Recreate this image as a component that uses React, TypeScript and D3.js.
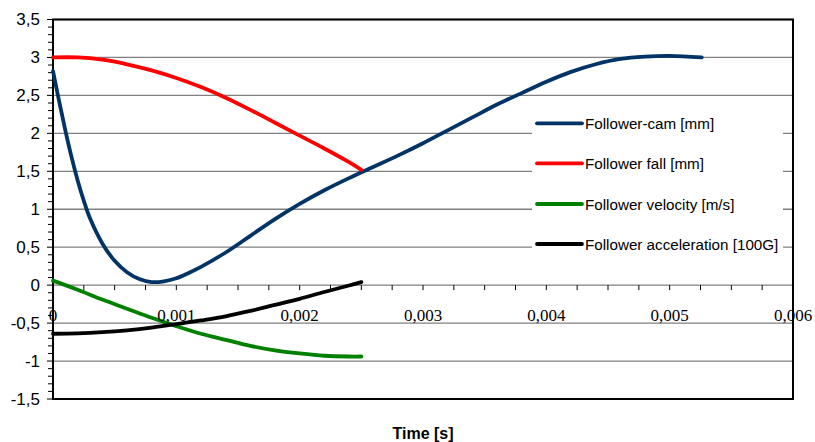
import React from "react";
import * as d3 from "d3";

// Time values in seconds
const camTime = [0, 0.00005, 0.0001, 0.00015, 0.0002, 0.00025, 0.0003, 0.0004, 0.0005, 0.0006, 0.0007, 0.0008, 0.0009, 0.001, 0.0011, 0.0012, 0.0014, 0.0016, 0.0018, 0.002, 0.0022, 0.0024, 0.0026, 0.0028, 0.003, 0.0032, 0.0034, 0.0036, 0.0038, 0.004, 0.0042, 0.0044, 0.0046, 0.0048, 0.005, 0.00526];
const camValues = [2.82, 2.42, 2.04, 1.69, 1.38, 1.11, 0.88, 0.55, 0.32, 0.17, 0.08, 0.04, 0.05, 0.09, 0.16, 0.24, 0.43, 0.65, 0.87, 1.07, 1.25, 1.41, 1.56, 1.71, 1.87, 2.04, 2.21, 2.38, 2.53, 2.68, 2.81, 2.91, 2.98, 3.01, 3.02, 3.0];

const fallTime = [0, 0.0002, 0.0004, 0.0006, 0.0008, 0.001, 0.0012, 0.0014, 0.0016, 0.0018, 0.002, 0.0022, 0.0024, 0.0025];
const fallValues = [3.0, 3.0, 2.97, 2.91, 2.83, 2.73, 2.61, 2.47, 2.31, 2.14, 1.97, 1.8, 1.62, 1.52];

const motionTime = [0, 0.0002, 0.0004, 0.0006, 0.0008, 0.001, 0.0012, 0.0014, 0.0016, 0.0018, 0.002, 0.0022, 0.0024, 0.0025];
const velocityValues = [0.06, -0.06, -0.19, -0.31, -0.43, -0.54, -0.64, -0.72, -0.8, -0.86, -0.9, -0.93, -0.94, -0.94];
const accelerationValues = [-0.64, -0.635, -0.62, -0.595, -0.56, -0.515, -0.465, -0.41, -0.34, -0.26, -0.18, -0.09, -0.005, 0.04];

const seriesNames = ["Follower-cam [mm]", "Follower fall [mm]", "Follower velocity [m/s]", "Follower acceleration [100G]"];
const seriesColors = ["#003366", "#ff0000", "#008000", "#000000"];

const xTicks = [0, 0.001, 0.002, 0.003, 0.004, 0.005, 0.006];
const xTickLabels = ["0", "0,001", "0,002", "0,003", "0,004", "0,005", "0,006"];
const yTicks = [-1.5, -1, -0.5, 0, 0.5, 1, 1.5, 2, 2.5, 3, 3.5];
const yTickLabels = ["-1,5", "-1", "-0,5", "0", "0,5", "1", "1,5", "2", "2,5", "3", "3,5"];
const xTitle = "Time [s]";

const W = 815;
const H = 442;
const left = 53;
const right = 793;
const top = 19.5;
const bottom = 399;

const SANS = "'Liberation Sans', Arial, sans-serif";
const SERIF = "'Liberation Serif', 'Times New Roman', serif";

export default function App() {
  const x = d3.scaleLinear().domain([0, 0.006]).range([left, right]);
  const y = d3.scaleLinear().domain([-1.5, 3.5]).range([bottom, top]);

  const series = [
    { t: camTime, v: camValues },
    { t: fallTime, v: fallValues },
    { t: motionTime, v: velocityValues },
    { t: motionTime, v: accelerationValues },
  ];

  const line = d3
    .line<[number, number]>()
    .x((d) => x(d[0]))
    .y((d) => y(d[1]))
    .curve(d3.curveCatmullRom.alpha(0.5));

  const minorX = d3.range(0, 25).map((i) => i * 0.00025);
  const minorY = d3.range(0, 51).map((i) => -1.5 + i * 0.1);

  const legendLineY = [123.3, 163.3, 204, 244];

  return (
    <svg
      width={W}
      height={H}
      style={{ position: "absolute", left: 0, top: 0, background: "#fff" }}
    >
      <rect x={0} y={0} width={W} height={H} fill="#fff" />
      {yTicks.map((t) => (
        <line key={"g" + t} x1={left} x2={right} y1={y(t)} y2={y(t)} stroke="#808080" strokeWidth={1.3} />
      ))}
      {minorY.map((t, i) => (
        <line
          key={"ym" + i}
          x1={left - (i % 5 === 0 ? 6 : 5)}
          x2={left}
          y1={y(t)}
          y2={y(t)}
          stroke="#000"
          strokeWidth={1}
        />
      ))}
      {minorX.map((t, i) => (
        <line key={"xm" + i} x1={x(t)} x2={x(t)} y1={y(0)} y2={y(0) + 5} stroke="#000" strokeWidth={1} />
      ))}
      <rect x={left} y={top} width={right - left} height={bottom - top} fill="none" stroke="#000" strokeWidth={2} />
      <rect x={532} y={103} width={251} height={162} fill="#fff" />
      {series.map((s, i) => (
        <path
          key={"s" + i}
          d={line(s.t.map((t, j) => [t, s.v[j]] as [number, number])) || ""}
          fill="none"
          stroke={seriesColors[i]}
          strokeWidth={3.8}
          strokeLinecap="round"
          strokeLinejoin="round"
        />
      ))}
      {yTicks.map((t, i) => (
        <text
          key={"yl" + t}
          x={40}
          y={y(t)}
          textAnchor="end"
          dominantBaseline="central"
          style={{ fontFamily: SANS, fontSize: 17 }}
          fill="#000"
        >
          {yTickLabels[i]}
        </text>
      ))}
      {xTicks.map((t, i) => (
        <text
          key={"xl" + t}
          x={x(t)}
          y={320.5}
          textAnchor="middle"
          style={{ fontFamily: SERIF, fontSize: 17 }}
          fill="#000"
        >
          {xTickLabels[i]}
        </text>
      ))}
      {seriesNames.map((n, i) => (
        <g key={"lg" + i}>
          <line
            x1={537}
            x2={582}
            y1={legendLineY[i]}
            y2={legendLineY[i]}
            stroke={seriesColors[i]}
            strokeWidth={3.8}
            strokeLinecap="round"
          />
          <text
            x={585}
            y={legendLineY[i]}
            dominantBaseline="central"
            style={{ fontFamily: SANS, fontSize: 15.2 }}
            fill="#000"
          >
            {n}
          </text>
        </g>
      ))}
      <text
        x={423}
        y={439}
        textAnchor="middle"
        style={{ fontFamily: SANS, fontSize: 16, fontWeight: "bold" }}
        fill="#000"
      >
        {xTitle}
      </text>
    </svg>
  );
}
